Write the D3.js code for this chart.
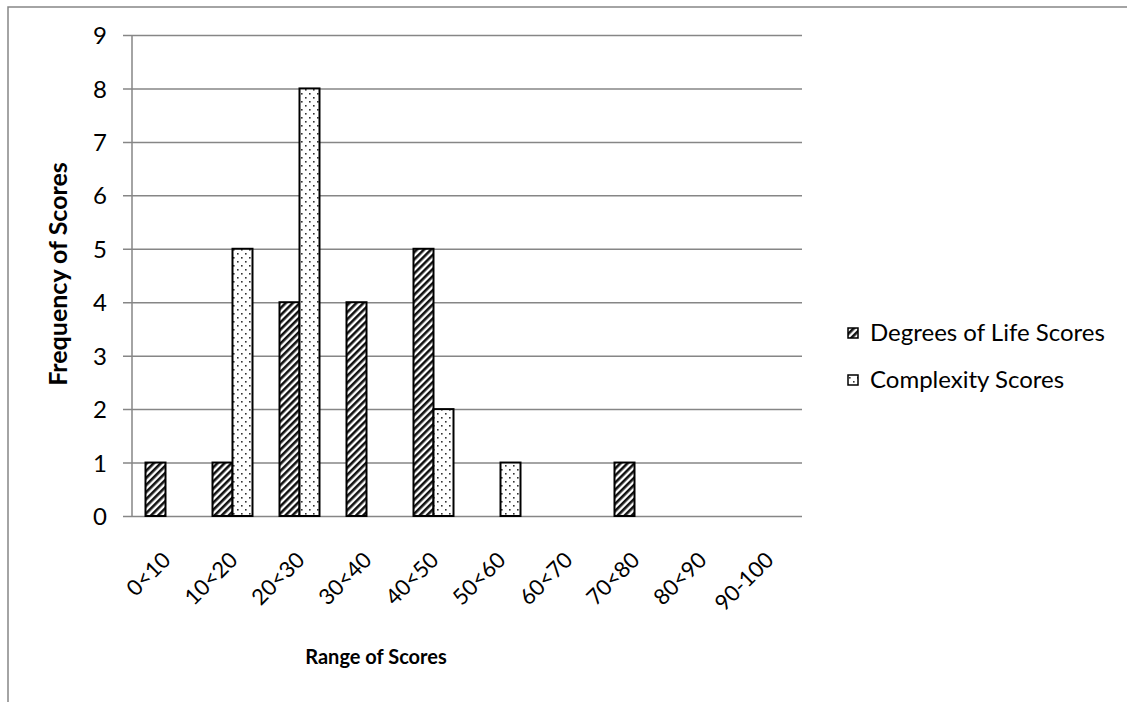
<!DOCTYPE html>
<html>
<head>
<meta charset="utf-8">
<script src="https://cdn.jsdelivr.net/npm/d3@7"></script>
<style>
  html, body { margin: 0; padding: 0; background: #fff; }
  svg { display: block; }
  text { font-family: Lato, "Open Sans", "Liberation Sans", sans-serif; fill: #000; }
</style>
</head>
<body>
<svg id="chart" width="1127" height="702"></svg>
<script>
// Score ranges and the two frequency series
const categories = ["0<10", "10<20", "20<30", "30<40", "40<50", "50<60", "60<70", "70<80", "80<90", "90-100"];
const degreesOfLife = [1, 1, 4, 4, 5, 0, 0, 1, 0, 0];
const complexity = [0, 5, 8, 0, 2, 1, 0, 0, 0, 0];
const seriesNames = ["Degrees of Life Scores", "Complexity Scores"];
const yTicks = [0, 1, 2, 3, 4, 5, 6, 7, 8, 9];

const svg = d3.select("#chart");

// Fill patterns: diagonal hatching and a staggered dot grid
const defs = svg.append("defs");
const hatch = defs.append("pattern")
  .attr("id", "hatch").attr("patternUnits", "userSpaceOnUse")
  .attr("width", 5).attr("height", 5)
  .attr("patternTransform", "rotate(45)");
hatch.append("rect").attr("width", 5).attr("height", 5).attr("fill", "#fff");
hatch.append("rect").attr("x", 0).attr("width", 2.6).attr("height", 5).attr("fill", "#111");

const dots = defs.append("pattern")
  .attr("id", "dots").attr("patternUnits", "userSpaceOnUse")
  .attr("width", 8).attr("height", 8);
dots.append("rect").attr("width", 8).attr("height", 8).attr("fill", "#fff");
dots.append("rect").attr("x", 1).attr("y", 1).attr("width", 1.6).attr("height", 1.6).attr("fill", "#333");
dots.append("rect").attr("x", 5).attr("y", 5).attr("width", 1.6).attr("height", 1.6).attr("fill", "#333");

// Outer frame
svg.append("path")
  .attr("d", "M8,702 V7 H1127")
  .attr("fill", "none").attr("stroke", "#868686").attr("stroke-width", 1.5);

const plot = { left: 132, right: 802, top: 35, bottom: 516 };

const x = d3.scaleBand().domain(categories).range([plot.left, plot.right]);
const y = d3.scaleLinear().domain([0, 9]).range([plot.bottom, plot.top]);
const barW = 20;

// Horizontal gridlines with short left tick marks
const yAxis = d3.axisLeft(y).tickValues(yTicks).tickSize(-(plot.right - plot.left + 9)).tickFormat(d3.format("d"));
const gy = svg.append("g").attr("transform", `translate(${plot.left - 9},0)`).call(yAxis);
gy.select(".domain").remove();
gy.selectAll(".tick line").attr("stroke", "#868686").attr("stroke-width", 1.5);
gy.selectAll(".tick text").attr("font-size", 24).attr("x", -16).attr("dy", "0.36em");

// Vertical axis line
svg.append("line")
  .attr("x1", plot.left).attr("x2", plot.left)
  .attr("y1", plot.top).attr("y2", plot.bottom)
  .attr("stroke", "#868686").attr("stroke-width", 1.5);

// Bars
const rows = categories.map((c, i) => ({ c, a: degreesOfLife[i], b: complexity[i] }));
const mid = c => x(c) + x.bandwidth() / 2;

svg.append("g").selectAll("rect")
  .data(rows.filter(d => d.a > 0)).join("rect")
  .attr("x", d => mid(d.c) - barW).attr("width", barW)
  .attr("y", d => y(d.a)).attr("height", d => y(0) - y(d.a))
  .attr("fill", "url(#hatch)").attr("stroke", "#000").attr("stroke-width", 2);

svg.append("g").selectAll("rect")
  .data(rows.filter(d => d.b > 0)).join("rect")
  .attr("x", d => mid(d.c)).attr("width", barW)
  .attr("y", d => y(d.b)).attr("height", d => y(0) - y(d.b))
  .attr("fill", "url(#dots)").attr("stroke", "#000").attr("stroke-width", 2);

// Category labels, rotated
svg.append("g").selectAll("text")
  .data(categories).join("text")
  .attr("transform", c => `translate(${mid(c) + 1},${plot.bottom + 40}) rotate(-45)`)
  .attr("text-anchor", "end")
  .attr("dy", "0.35em")
  .attr("font-size", 22)
  .text(c => c);

// Axis titles
svg.append("text")
  .attr("x", 376).attr("y", 657).attr("dy", "0.35em")
  .attr("text-anchor", "middle").attr("font-size", 20).attr("font-weight", "bold")
  .text("Range of Scores");

svg.append("text")
  .attr("transform", `translate(58,274) rotate(-90)`)
  .attr("dy", "0.35em")
  .attr("text-anchor", "middle").attr("font-size", 25).attr("font-weight", "bold")
  .text("Frequency of Scores");

// Legend
const legend = svg.append("g").attr("transform", "translate(848,0)");
const fills = ["url(#hatch)", "url(#dots)"];
const legendY = [333, 380];
seriesNames.forEach((name, i) => {
  legend.append("rect")
    .attr("x", 0).attr("y", legendY[i] - 5).attr("width", 10).attr("height", 10)
    .attr("fill", fills[i]).attr("stroke", "#000").attr("stroke-width", 1.5);
  legend.append("text")
    .attr("x", 22).attr("y", legendY[i]).attr("dy", "0.35em")
    .attr("font-size", 24)
    .text(name);
});
</script>
</body>
</html>
